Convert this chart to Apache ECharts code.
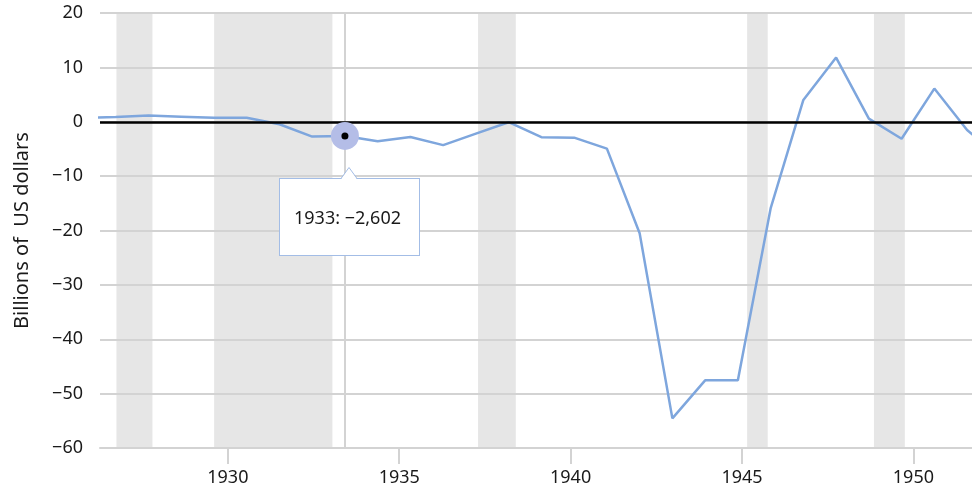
<!DOCTYPE html>
<html>
<head>
<meta charset="utf-8">
<title>US federal surplus or deficit</title>
<script src="https://cdn.jsdelivr.net/npm/echarts@6/dist/echarts.min.js"></script>
<style>
  html, body { margin: 0; padding: 0; background: #fff; }
  #chart { width: 972px; height: 491px; }
</style>
</head>
<body>
<div id="chart"></div>
<script>
// fiscal years and surplus (+) / deficit (-), millions of US dollars
const years = [1925, 1926, 1927, 1928, 1929, 1930, 1931, 1932, 1933, 1934, 1935, 1936, 1937, 1938, 1939,
  1940, 1941, 1942, 1943, 1944, 1945, 1946, 1947, 1948, 1949, 1950, 1951, 1952, 1953];
const surplusMillions = [717, 865, 1155, 939, 734, 738, -462, -2735, -2602, -3586, -2803, -4304, -2193, -89, -2846,
  -2920, -4941, -20503, -54554, -47557, -47553, -15936, 4018, 11796, 580, -3119, 6102, -1519, -6493];

// recession periods (decimal years)
const recessions = [[1926.75, 1927.8], [1929.6, 1933.05], [1937.3, 1938.4], [1945.15, 1945.75], [1948.85, 1949.75]];

const tickYears = [1930, 1935, 1940, 1945, 1950];
const yTicks = [-60, -50, -40, -30, -20, -10, 0, 10, 20];
const highlightYear = 1933;

const FONT = '"Noto Sans", "Open Sans", sans-serif';
const GRID_GRAY = '#d3d3d3';
const LINE_BLUE = '#7ea6dd';

function minus(n) {
  return n < 0 ? '\u2212' + Math.abs(n).toLocaleString('en-US') : n.toLocaleString('en-US');
}

const lineData = years.map((y, i) => [y, surplusMillions[i] / 1000]);
const hi = years.indexOf(highlightYear);
const hiPoint = [years[hi], surplusMillions[hi] / 1000];

const chart = echarts.init(document.getElementById('chart'));

const option = {
  animation: false,
  textStyle: { fontFamily: FONT },
  grid: { left: 100, right: 0, top: 13, bottom: 43 },
  tooltip: {
    trigger: 'item',
    alwaysShowContent: true,
    transitionDuration: 0,
    backgroundColor: 'transparent',
    borderWidth: 0,
    padding: 0,
    extraCssText: 'box-shadow:none;',
    position: function (point) {
      return [point[0] - 66, point[1] + 31];
    },
    formatter: function (params) {
      const y = params.value[0];
      const v = surplusMillions[years.indexOf(y)];
      return '<div style="position:relative;width:141px;padding-top:11px;">' +
        '<svg width="18" height="13" style="position:absolute;left:62px;top:0;">' +
        '<polygon points="0,12.5 8,0.5 16,12.5" fill="#fff"/>' +
        '<polyline points="0,11.5 8,0.5 16,11.5" fill="none" stroke="#a3bde6" stroke-width="1"/></svg>' +
        '<div style="box-sizing:border-box;width:141px;height:78px;border:1px solid #a3bde6;background:#fff;' +
        'display:flex;align-items:center;padding-left:14px;font-family:' + FONT.replace(/"/g, "'") +
        ';font-size:18px;color:#1a1a1a;">' + y + ': ' + minus(v) + '</div></div>';
    }
  },
  xAxis: [
    {
      type: 'value',
      min: 1926.27,
      max: 1951.71,
      position: 'bottom',
      axisLine: { show: true, onZero: false, lineStyle: { color: GRID_GRAY, width: 2 } },
      axisTick: { show: true, customValues: tickYears, length: 16, lineStyle: { color: GRID_GRAY, width: 2 } },
      axisLabel: {
        customValues: tickYears,
        formatter: v => String(v),
        color: '#1a1a1a',
        fontSize: 18,
        margin: 21
      },
      splitLine: { show: false }
    },
    {
      type: 'value',
      min: 1925.52,
      max: 1952.15,
      show: false
    }
  ],
  yAxis: {
    type: 'value',
    min: yTicks[0],
    max: yTicks[yTicks.length - 1],
    interval: 10,
    z: 2,
    name: 'Billions of  US dollars',
    nameLocation: 'middle',
    nameGap: 68,
    nameTextStyle: { fontSize: 20, color: '#1a1a1a' },
    axisLine: { show: false },
    axisTick: { show: false },
    axisLabel: { formatter: v => minus(v), color: '#1a1a1a', fontSize: 18, margin: 17 },
    splitLine: { lineStyle: { color: GRID_GRAY, width: 2 } }
  },
  series: [
    {
      name: 'recessions',
      type: 'line',
      xAxisIndex: 0,
      data: [],
      z: 0,
      silent: true,
      markArea: {
        silent: true,
        z: 0,
        itemStyle: { color: '#e6e6e6' },
        data: recessions.map(r => [{ xAxis: r[0] }, { xAxis: r[1] }])
      }
    },
    {
      name: 'surplus',
      type: 'line',
      xAxisIndex: 1,
      data: lineData,
      showSymbol: false,
      silent: true,
      z: 4,
      lineStyle: { color: LINE_BLUE, width: 2.5 },
      markLine: {
        silent: true,
        symbol: 'none',
        z: 5,
        label: { show: false },
        data: [
          { yAxis: 0, lineStyle: { color: '#000', width: 2.5, type: 'solid' } }
        ]
      }
    },
    {
      name: 'highlight',
      type: 'scatter',
      xAxisIndex: 1,
      data: [hiPoint],
      symbolSize: 28,
      itemStyle: { color: '#b4bde7', opacity: 1 },
      emphasis: { disabled: true },
      z: 6,
      markLine: {
        silent: true,
        symbol: 'none',
        z: 3,
        label: { show: false },
        data: [
          { xAxis: highlightYear, lineStyle: { color: GRID_GRAY, width: 2, type: 'solid' } }
        ]
      }
    },
    {
      name: 'highlightDot',
      type: 'scatter',
      xAxisIndex: 1,
      data: [hiPoint],
      symbolSize: 7,
      silent: true,
      itemStyle: { color: '#000', opacity: 1 },
      emphasis: { disabled: true },
      tooltip: { show: false },
      z: 7
    }
  ]
};

chart.setOption(option);
chart.dispatchAction({ type: 'showTip', seriesIndex: 2, dataIndex: 0 });
</script>
</body>
</html>
